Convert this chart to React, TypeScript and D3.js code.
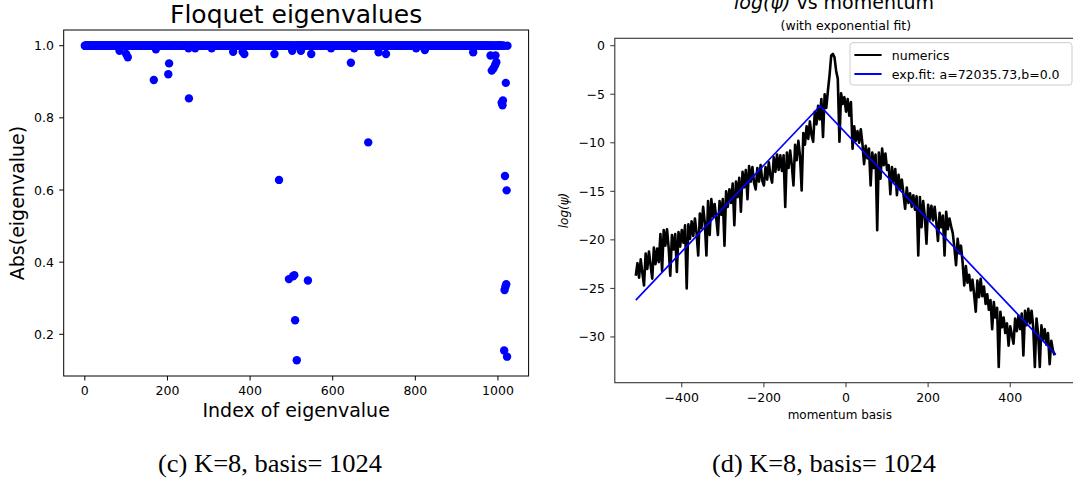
import React from "react";
import * as d3 from "d3";

// (c) Floquet eigenvalues: nearly every |eigenvalue| sits at 1.0, these are the ones that don't
const eigenCount = 1024;
const onCircleAbs = 1.0;
const offIndex = [84, 100, 104, 167, 172, 202, 204, 251, 252, 267, 307, 359, 382, 386, 459, 470, 494, 502, 504, 507, 509, 513, 523, 540, 548, 596, 644, 652, 686, 711, 729, 802, 823, 940, 982, 985, 989, 993, 994, 996, 1009, 1011, 1012, 1015, 1016, 1017, 1018, 1019, 1020, 1021, 1022];
const offAbs = [0.986, 0.977, 0.968, 0.905, 0.99, 0.921, 0.951, 0.993, 0.854, 0.993, 0.993, 0.983, 0.983, 0.977, 0.977, 0.628, 0.353, 0.986, 0.361, 0.364, 0.239, 0.128, 0.986, 0.349, 0.977, 0.993, 0.953, 0.993, 0.732, 0.982, 0.977, 0.993, 0.988, 0.982, 0.973, 0.931, 0.937, 0.946, 0.973, 0.954, 0.842, 0.835, 0.848, 0.155, 0.323, 0.639, 0.332, 0.897, 0.339, 0.599, 0.138];

// (d) log(psi) against momentum basis, sampled every 4th basis state
const momentum = d3.range(-512, 512, 4);
const logPsi = [
  -23.7, -22.4, -23.9, -22.0, -23.4, -24.7, -21.4, -23.0, -21.2, -22.6, -24.0, -20.8, -22.5, -20.9, -22.3, -19.4,
  -23.2, -19.0, -20.6, -18.9, -20.8, -23.7, -19.5, -21.0, -19.4, -23.3, -19.2, -20.7, -19.0, -20.3, -18.5, -25.0,
  -18.4, -19.9, -18.1, -19.6, -17.8, -19.3, -21.6, -17.3, -18.8, -16.6, -18.2, -21.6, -16.0, -19.5, -15.8, -17.6,
  -16.3, -17.8, -19.5, -16.0, -17.4, -15.8, -20.6, -15.0, -16.6, -14.8, -16.2, -14.2, -18.5, -14.0, -15.6, -13.6,
  -17.1, -13.0, -14.6, -12.8, -15.8, -12.4, -14.0, -12.5, -14.1, -14.8, -12.6, -14.0, -12.3, -13.9, -14.4, -12.5,
  -13.8, -12.0, -13.4, -14.1, -11.5, -13.0, -11.2, -12.8, -11.3, -12.9, -11.3, -16.6, -11.0, -12.6, -10.8, -12.3,
  -14.4, -10.2, -11.8, -9.8, -11.4, -14.9, -9.0, -10.2, -8.3, -9.6, -7.8, -9.2, -9.9, -6.8, -8.1, -6.2,
  -7.6, -5.5, -9.4, -5.0, -6.4, -4.6, -3.0, -1.0, -0.85, -1.2, -2.6, -3.4, -9.9, -4.9, -6.0, -5.3,
  -6.8, -5.5, -7.2, -5.8, -10.6, -8.3, -9.8, -8.8, -10.0, -8.6, -10.1, -12.2, -10.3, -11.6, -10.6, -14.4,
  -11.0, -12.6, -11.2, -19.0, -11.0, -13.7, -10.6, -12.3, -11.1, -12.8, -12.3, -15.3, -12.5, -14.0, -12.7, -15.4,
  -13.3, -14.8, -13.8, -15.3, -16.8, -14.6, -16.2, -15.2, -16.6, -15.4, -16.9, -15.5, -21.6, -15.6, -18.7, -16.0,
  -17.6, -20.4, -16.4, -17.9, -16.5, -18.0, -16.6, -18.2, -20.1, -17.2, -18.7, -17.5, -21.6, -17.1, -18.9, -17.8,
  -18.6, -19.3, -20.8, -22.6, -19.9, -21.4, -20.6, -22.3, -24.7, -22.7, -24.4, -23.6, -25.2, -24.1, -25.6, -27.4,
  -24.2, -25.9, -24.0, -25.8, -24.8, -26.6, -25.6, -27.2, -26.2, -29.2, -26.4, -28.0, -27.0, -33.1, -27.4, -29.0,
  -28.0, -29.6, -28.6, -30.9, -28.9, -29.8, -30.7, -28.1, -29.4, -27.8, -29.2, -27.6, -31.9, -27.3, -28.8, -27.1,
  -28.6, -27.3, -29.0, -33.1, -28.1, -29.7, -33.1, -28.8, -30.3, -29.2, -30.8, -29.6, -32.8, -30.4, -31.4, -31.9,
];
const fitMomentum = [-512, -63, 511];
const fitLogPsi = [-26.2, -6.2, -31.8];

const legendLabels = ["numerics", "exp.fit: a=72035.73,b=0.0"];
const captions = ["(c) K=8, basis= 1024", "(d) K=8, basis= 1024"];

const W = 1073;
const H = 481;
const FONT = "DejaVu Sans, sans-serif";

// matplotlib style 5% padding around the data extent
function padded(ext: [number, number]): [number, number] {
  const p = (ext[1] - ext[0]) * 0.05;
  return [ext[0] - p, ext[1] + p];
}

function EigenPanel() {
  const left = 63.7, right = 528.6, top = 30, bottom = 376;
  const pts = d3.range(eigenCount).map((i) => {
    const k = offIndex.indexOf(i);
    return { i, v: k >= 0 ? offAbs[k] : onCircleAbs };
  });
  const x = d3.scaleLinear().domain(padded([0, eigenCount - 1])).range([left, right]);
  const y = d3
    .scaleLinear()
    .domain(padded(d3.extent(pts, (d) => d.v) as [number, number]))
    .range([bottom, top]);
  const fmt = d3.format(".1f");
  const band = pts.filter((d) => d.v === onCircleAbs);
  const off = pts.filter((d) => d.v !== onCircleAbs);

  return (
    <g fontFamily={FONT}>
      <text x={(left + right) / 2} y={22.7} fontSize={25} textAnchor="middle">
        Floquet eigenvalues
      </text>
      {band.concat(off).map((d) => (
        <circle key={d.i} cx={x(d.i)} cy={y(d.v)} r={4.2} fill="#0000ff" />
      ))}
      <rect x={left} y={top} width={right - left} height={bottom - top} fill="none" stroke="#000" strokeWidth={1} />
      {x.ticks(6).map((t) => (
        <g key={"x" + t}>
          <line x1={x(t)} x2={x(t)} y1={bottom} y2={bottom + 4.5} stroke="#000" />
          <text x={x(t)} y={395} fontSize={12.5} textAnchor="middle">
            {t}
          </text>
        </g>
      ))}
      {y.ticks(5).map((t) => (
        <g key={"y" + t}>
          <line x1={left - 4.5} x2={left} y1={y(t)} y2={y(t)} stroke="#000" />
          <text x={54} y={y(t)} dy="0.36em" fontSize={12.5} textAnchor="end">
            {fmt(t)}
          </text>
        </g>
      ))}
      <text x={(left + right) / 2} y={417} fontSize={19} textAnchor="middle">
        Index of eigenvalue
      </text>
      <text transform={`translate(24,${(top + bottom) / 2}) rotate(-90)`} fontSize={19} textAnchor="middle">
        Abs(eigenvalue)
      </text>
    </g>
  );
}

function MomentumPanel() {
  const left = 614.8, right = 1076.8, top = 38.3, bottom = 382.7;
  const x = d3
    .scaleLinear()
    .domain(padded(d3.extent(momentum.concat(fitMomentum)) as [number, number]))
    .range([left, right]);
  const y = d3
    .scaleLinear()
    .domain(padded(d3.extent(logPsi.concat(fitLogPsi)) as [number, number]))
    .range([bottom, top]);
  const line = d3
    .line<number>()
    .x((_, i) => x(momentum[i]))
    .y((d) => y(d));
  const fitLine = d3
    .line<number>()
    .x((_, i) => x(fitMomentum[i]))
    .y((d) => y(d));
  const fmt = d3.format("d");

  return (
    <g fontFamily={FONT}>
      <text x={834} y={9} fontSize={19} textAnchor="middle">
        <tspan fontStyle="italic">log(ψ)</tspan> vs momentum
      </text>
      <text x={(left + right) / 2} y={29.5} fontSize={12.5} textAnchor="middle">
        (with exponential fit)
      </text>
      <path d={line(logPsi) ?? ""} fill="none" stroke="#000" strokeWidth={2.6} strokeLinejoin="round" />
      <path d={fitLine(fitLogPsi) ?? ""} fill="none" stroke="#0000ff" strokeWidth={1.7} />
      <rect x={left} y={top} width={right - left} height={bottom - top} fill="none" stroke="#333" strokeWidth={1.1} />
      {x.ticks(5).map((t) => (
        <g key={"x" + t}>
          <line x1={x(t)} x2={x(t)} y1={bottom} y2={bottom + 4.5} stroke="#333" />
          <text x={x(t)} y={402} fontSize={12.5} textAnchor="middle">
            {fmt(t)}
          </text>
        </g>
      ))}
      {y.ticks(7).map((t) => (
        <g key={"y" + t}>
          <line x1={left - 4.5} x2={left} y1={y(t)} y2={y(t)} stroke="#333" />
          <text x={605} y={y(t)} dy="0.36em" fontSize={12.5} textAnchor="end">
            {fmt(t)}
          </text>
        </g>
      ))}
      <text x={(left + right) / 2 - 6} y={419} fontSize={12} textAnchor="middle">
        momentum basis
      </text>
      <text transform={`translate(568,${(top + bottom) / 2}) rotate(-90)`} fontSize={12} fontStyle="italic" textAnchor="middle">
        log(ψ)
      </text>
      <g>
        <rect x={850} y={42.7} width={222} height={42.3} rx={3} fill="#fff" fillOpacity={0.8} stroke="#ccc" />
        {legendLabels.map((lbl, i) => (
          <g key={lbl}>
            <line x1={854.4} x2={881.6} y1={55 + i * 19} y2={55 + i * 19} stroke={i === 0 ? "#000" : "#0000ff"} strokeWidth={2} />
            <text x={891.8} y={55 + i * 19} dy="0.36em" fontSize={12.5}>
              {lbl}
            </text>
          </g>
        ))}
      </g>
    </g>
  );
}

export default function App() {
  return (
    <svg
      width={W}
      height={H}
      viewBox={`0 0 ${W} ${H}`}
      style={{ position: "absolute", left: 0, top: 0, background: "#fff" }}
    >
      <rect width={W} height={H} fill="#fff" />
      <EigenPanel />
      <MomentumPanel />
      {captions.map((c, i) => (
        <text
          key={c}
          x={[270, 824][i]}
          y={472}
          fontFamily="'Liberation Serif', 'Times New Roman', serif"
          fontSize={25}
          textAnchor="middle"
          textLength={224}
          lengthAdjust="spacingAndGlyphs"
        >
          {c}
        </text>
      ))}
    </svg>
  );
}
